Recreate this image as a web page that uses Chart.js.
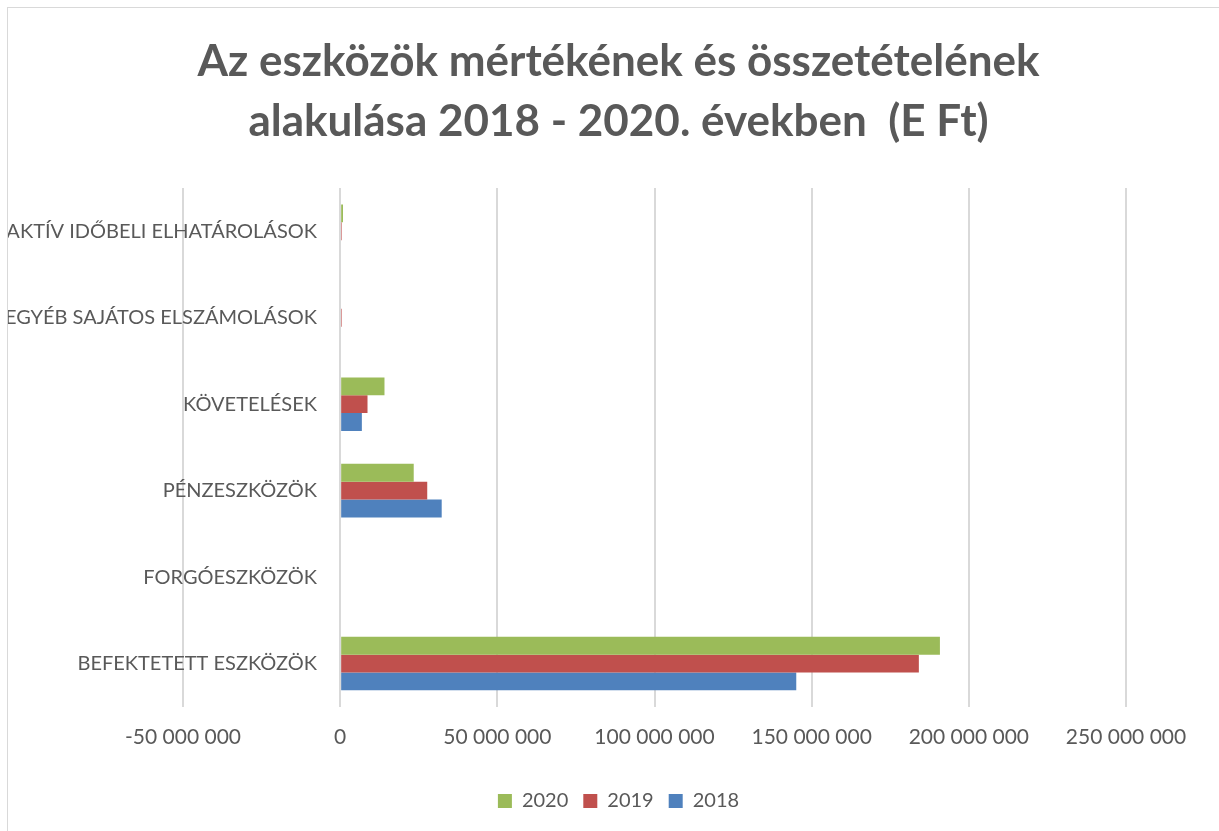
<!DOCTYPE html>
<html>
<head>
<meta charset="utf-8">
<script src="https://cdn.jsdelivr.net/npm/chart.js@4"></script>
<style>
  html, body { margin: 0; padding: 0; background: #fff; overflow: hidden; }
  #frame {
    position: absolute; left: 7px; top: 7px;
    width: 1300px; height: 900px;
    border: 1px solid #d9d9d9;
  }
  #wrap { position: absolute; left: 0; top: 0; width: 1224px; height: 823px; }
</style>
</head>
<body>
<div id="frame">
  <div id="wrap"><canvas id="chart"></canvas></div>
</div>
<script>
// categories, top to bottom as shown
var categories = [
  'AKTÍV IDŐBELI ELHATÁROLÁSOK',
  'EGYÉB SAJÁTOS ELSZÁMOLÁSOK',
  'KÖVETELÉSEK',
  'PÉNZESZKÖZÖK',
  'FORGÓESZKÖZÖK',
  'BEFEKTETETT ESZKÖZÖK'
];

// values in E Ft
var values2020 = [900000, 0, 14100000, 23400000, 0, 190800000];
var values2019 = [500000, 500000, 8700000, 27700000, 0, 184100000];
var values2018 = [0, 0, 6900000, 32300000, 0, 145100000];

var xTicks = [-50000000, 0, 50000000, 100000000, 150000000, 200000000, 250000000];

var titleLines = [
  'Az eszközök mértékének és összetételének',
  'alakulása 2018 - 2020. években  (E Ft)'
];

function fmt(v) {
  return String(v).replace(/\B(?=(\d{3})+(?!\d))/g, ' ');
}

var fontFamily = 'Lato, "Open Sans", sans-serif';
var grey = '#595959';
var labelFontSize = 20;

// measure widest category label so the mirrored labels end just left of zero
var mctx = document.createElement('canvas').getContext('2d');
mctx.font = labelFontSize + 'px ' + fontFamily;
var widest = 0;
categories.forEach(function(c) { widest = Math.max(widest, mctx.measureText(c).width); });

var ctx = document.getElementById('chart').getContext('2d');
new Chart(ctx, {
  type: 'bar',
  data: {
    labels: categories,
    datasets: [
      { label: '2020', data: values2020, backgroundColor: '#9bbb59', borderWidth: 0 },
      { label: '2019', data: values2019, backgroundColor: '#c0504d', borderWidth: 0 },
      { label: '2018', data: values2018, backgroundColor: '#4f81bd', borderWidth: 0 }
    ]
  },
  options: {
    indexAxis: 'y',
    responsive: true,
    maintainAspectRatio: false,
    animation: false,
    categoryPercentage: 0.62,
    barPercentage: 1.0,
    // left/right padding keeps title and legend centred on the frame
    layout: { padding: { left: 103, right: 106, top: 0, bottom: 10 } },
    scales: {
      x: {
        min: xTicks[0],
        max: xTicks[xTicks.length - 1],
        afterBuildTicks: function(scale) {
          scale.ticks = xTicks.map(function(v) { return { value: v }; });
        },
        afterFit: function(scale) { scale.height += 8; },
        grid: { color: '#d9d9d9', lineWidth: 2, drawTicks: false },
        border: { display: false },
        ticks: {
          color: grey,
          font: { family: fontFamily, size: 21 },
          padding: 18,
          maxRotation: 0,
          callback: function(v) { return fmt(v); }
        }
      },
      y: {
        // narrow axis; mirrored labels (not clipped) pushed right next to the zero line
        afterFit: function(scale) { scale.width = 72; },
        grid: { display: false, drawTicks: false },
        border: { display: false },
        ticks: {
          color: grey,
          font: { family: fontFamily, size: labelFontSize },
          mirror: true,
          crossAlign: 'far',
          padding: 134 - widest
        }
      }
    },
    plugins: {
      title: {
        display: true,
        text: titleLines,
        color: grey,
        font: { family: fontFamily, size: 44, weight: 'bold', lineHeight: 1.364 },
        padding: { top: 24, bottom: 36 }
      },
      legend: {
        position: 'bottom',
        labels: {
          color: grey,
          font: { family: fontFamily, size: 20 },
          boxWidth: 14,
          boxHeight: 14,
          padding: 15
        }
      },
      tooltip: { enabled: false }
    }
  }
});
</script>
</body>
</html>
